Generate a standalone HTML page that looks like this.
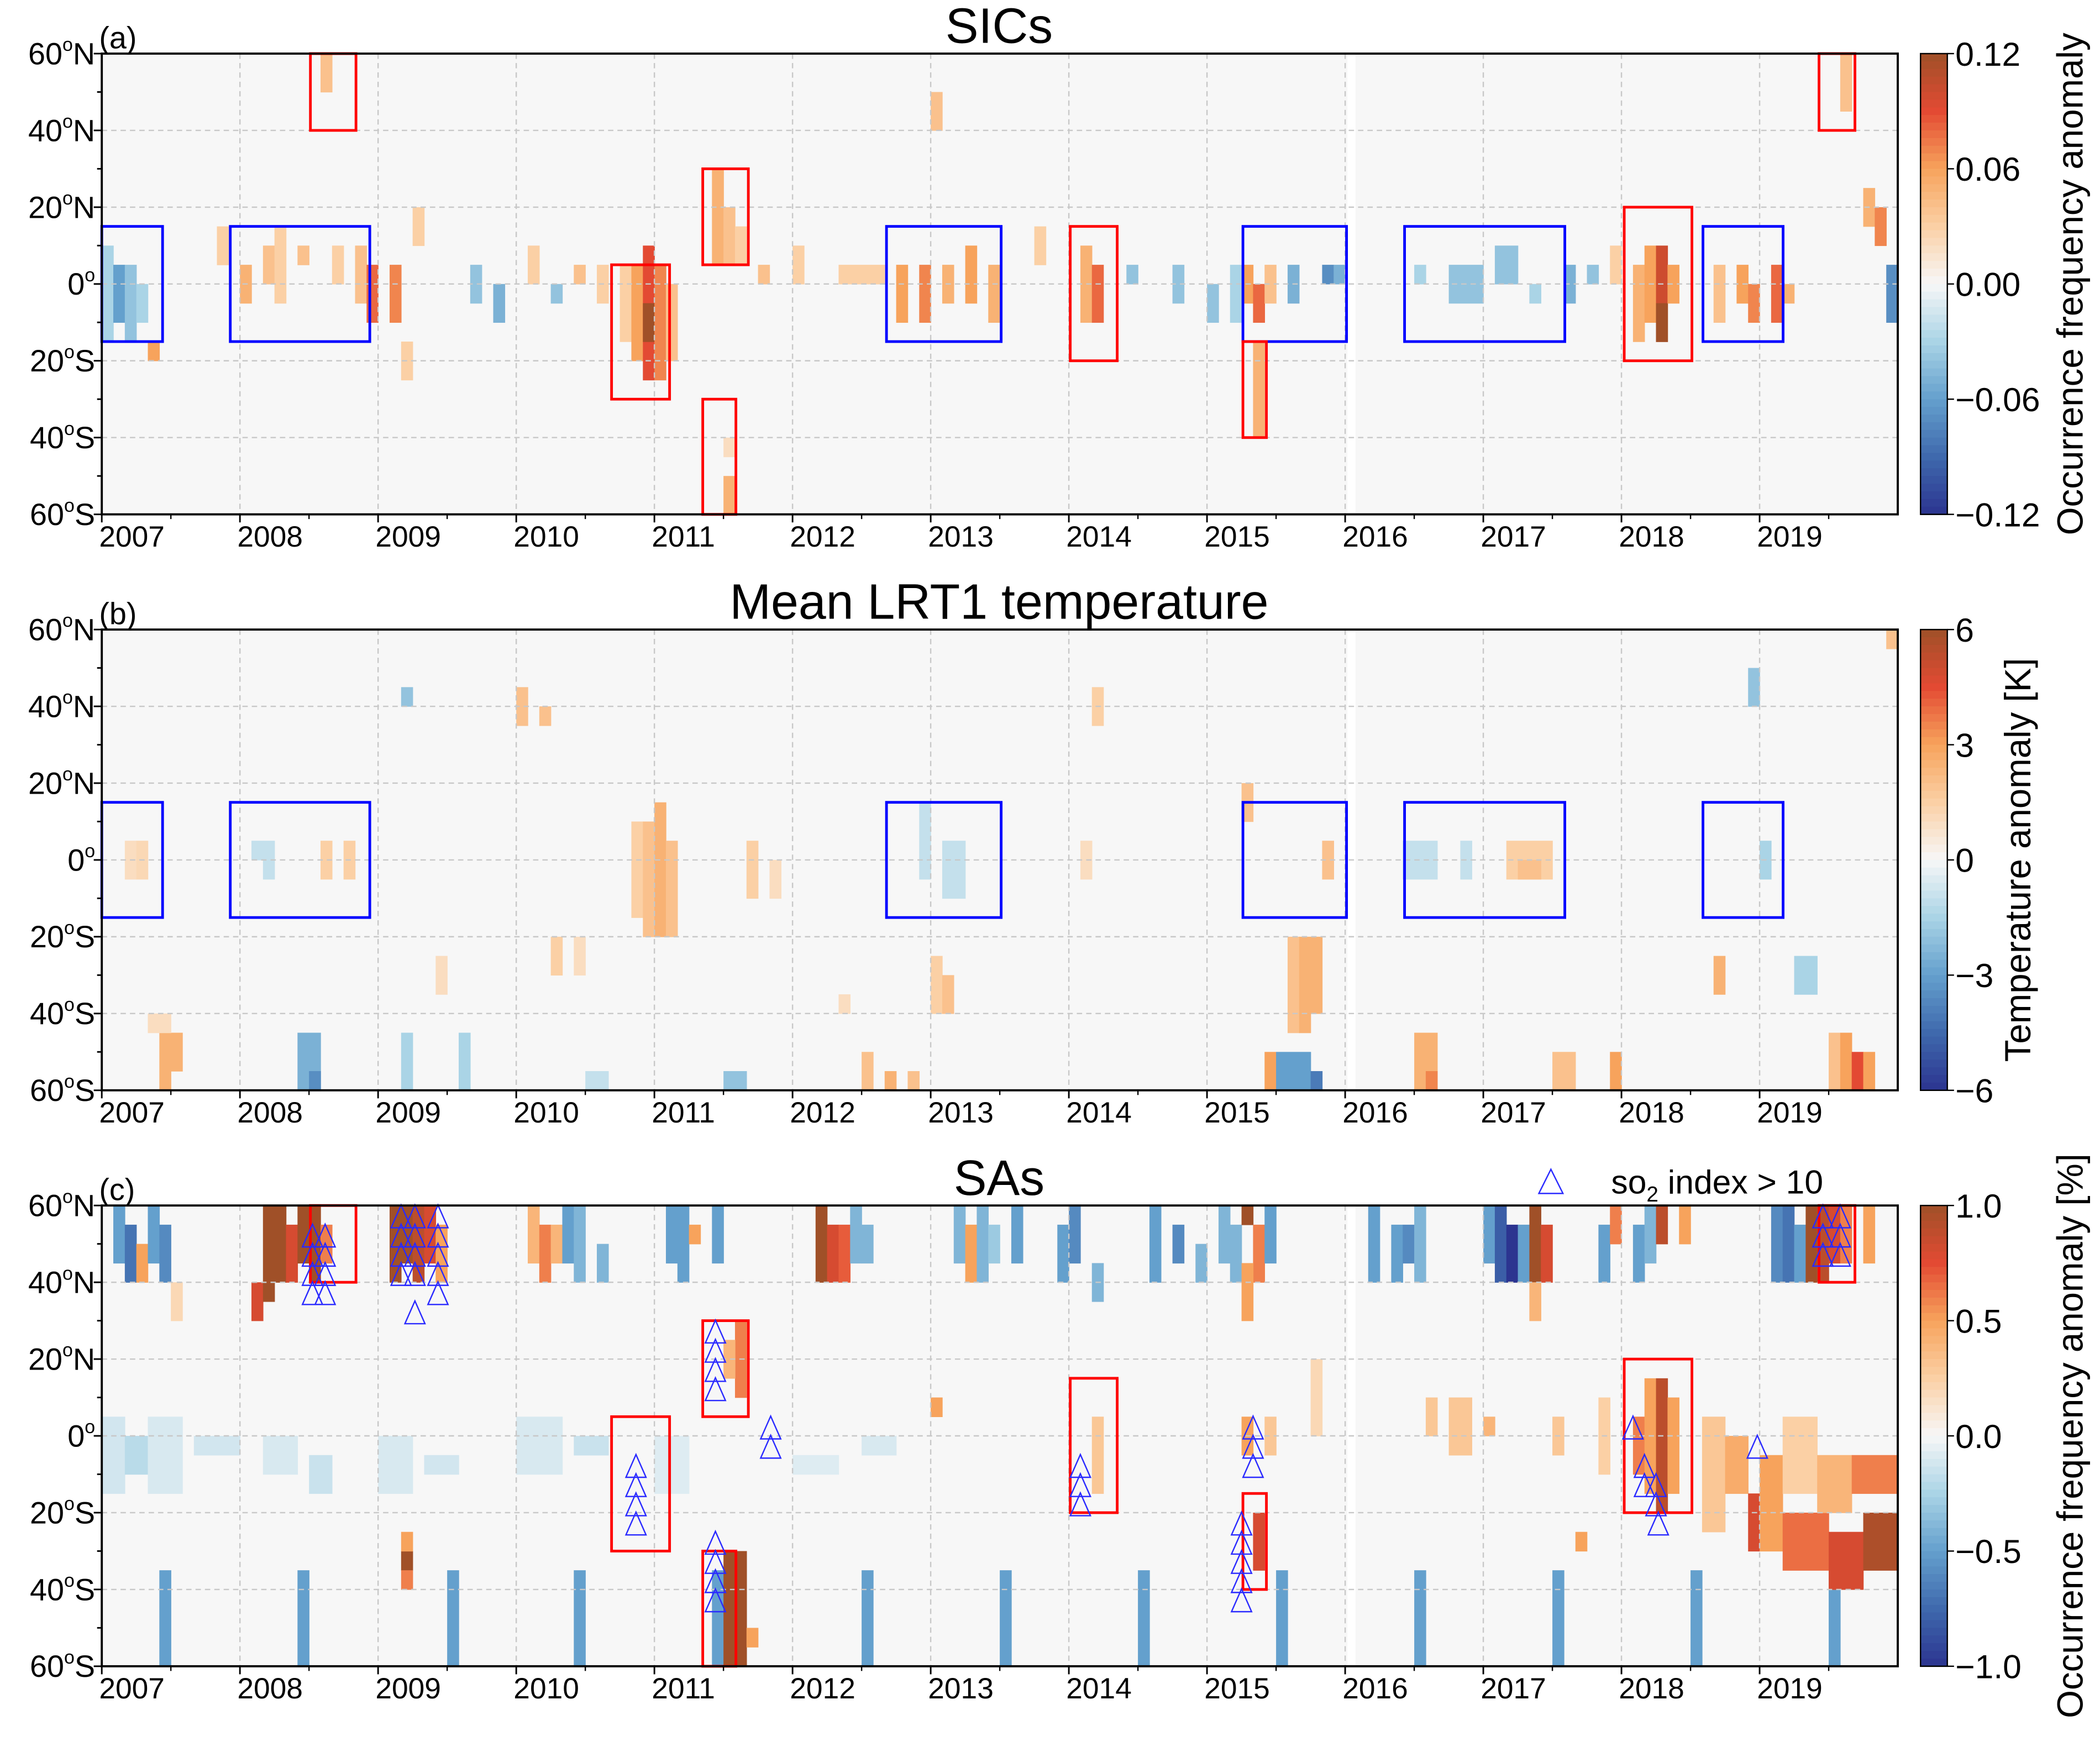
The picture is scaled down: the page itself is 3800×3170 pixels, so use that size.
<!DOCTYPE html>
<html><head><meta charset="utf-8">
<style>
html,body{margin:0;padding:0;background:#fff;}
svg{display:block;font-family:"Liberation Sans",sans-serif;}
</style></head>
<body>
<svg id="fig" width="3800" height="3170" viewBox="0 0 1568 1308" xmlns="http://www.w3.org/2000/svg">
<g id="layer"></g>
</svg>
<script>
// ---------- data ----------
const years = [2007,2008,2009,2010,2011,2012,2013,2014,2015,2016,2017,2018,2019];
const latTicks = [60,40,20,0,-20,-40,-60];
const panelTitles = ["SICs","Mean LRT1 temperature","SAs"];
const panelLetters = ["(a)","(b)","(c)"];
const cbTicksA = ["0.12","0.06","0.00","\u22120.06","\u22120.12"];
const cbTicksB = ["6","3","0","\u22123","\u22126"];
const cbTicksC = ["1.0","0.5","0.0","\u22120.5","\u22121.0"];
const cbLabels = ["Occurrence frequency anomaly","Temperature anomaly [K]","Occurrence frequency anomaly [%]"];
const vmax = [0.12, 6, 1.0];
// runs: [monthIndex from Jan 2007, months, latLow, latHigh, value]
const cellsA = [[0,1,-15,10,-0.03],[1,1,-10,5,-0.06],[2,1,-15,5,-0.04],[3,1,-10,0,-0.03],[4,1,-20,-15,0.06],
[10,1,5,15,0.03],[12,1,-5,5,0.05],[14,1,0,10,0.04],[15,1,-5,15,0.03],[17,1,5,10,0.04],[19,1,50,60,0.04],[20,1,0,10,0.03],[22,1,-5,10,0.04],[23,1,-10,5,0.08],[25,1,-10,5,0.07],[26,1,-25,-15,0.03],[27,1,10,20,0.03],
[32,1,-5,5,-0.04],[34,1,-10,0,-0.05],[37,1,0,10,0.03],[39,1,-5,0,-0.04],[41,1,0,5,0.04],[43,1,-5,5,0.03],
[45,1,-15,5,0.03],[46,1,-20,5,0.06],[47,1,-25,10,0.09],[47,1,-15,-5,0.12],[48,1,-25,5,0.07],[49,1,-20,0,0.04],
[53,1,5,30,0.05],[54,1,5,20,0.04],[55,1,5,15,0.03],[54,1,-60,-50,0.05],[54,1,-45,-40,0.02],
[57,1,0,5,0.04],[60,1,0,10,0.03],[64,4,0,5,0.03],[69,1,-10,5,0.06],[71,1,-10,5,0.07],[73,1,-5,5,0.05],[75,1,-5,10,0.06],[77,1,-10,5,0.05],[72,1,40,50,0.04],
[81,1,5,15,0.03],[85,1,-10,10,0.05],[86,1,-10,5,0.08],[89,1,0,5,-0.04],[93,1,-5,5,-0.04],[96,1,-10,0,-0.04],[98,1,-10,5,-0.03],
[99,1,-5,5,0.06],[100,1,-10,0,0.08],[100,1,-40,-15,0.05],[101,1,-5,5,0.04],[103,1,-5,5,-0.05],[106,1,0,5,-0.07],[107,1,0,5,-0.05],
[114,1,0,5,-0.03],[117,3,-5,5,-0.04],[121,2,0,10,-0.04],[124,1,-5,0,-0.03],[127,1,-5,5,-0.05],[129,1,0,5,-0.04],
[131,1,0,10,0.03],[133,1,-15,5,0.05],[134,1,-10,10,0.06],[135,1,-15,10,0.1],[135,1,-15,-5,0.12],[136,1,-5,5,0.06],
[140,1,-10,5,0.04],[142,1,-5,5,0.06],[143,1,-10,0,0.07],[145,1,-10,5,0.08],[146,1,-5,0,0.05],
[151,1,45,60,0.04],[153,1,15,25,0.05],[154,1,10,20,0.07],[155,1,-10,5,-0.07]];
const cellsB = [[2,1,-5,5,1],[3,1,-5,5,1.2],[5,1,-60,-45,2.5],[6,1,-55,-45,2.5],[4,2,-45,-40,1],
[13,1,0,5,-1],[14,1,-5,5,-1],[19,1,-5,5,1.5],[21,1,-5,5,1.5],[17,2,-60,-45,-2.5],[18,1,-60,-55,-3.5],
[26,1,40,45,-2],[26,1,-60,-45,-1.5],[29,1,-35,-25,1],
[31,1,-60,-45,-1.5],[36,1,35,45,2],[38,1,35,40,2],[39,1,-30,-20,1.5],[41,1,-30,-20,1],
[46,1,-15,10,1.5],[47,1,-20,10,2],[48,1,-20,15,2.5],[49,1,-20,5,2],[42,2,-60,-55,-1],
[54,2,-60,-55,-2],[56,1,-10,5,1.5],[58,1,-10,0,1],[64,1,-40,-35,1],[66,1,-60,-50,2],
[71,1,-5,15,-1],[73,2,-10,5,-1],[72,1,-40,-25,1.5],[73,1,-40,-30,2],[68,1,-60,-55,2.5],[70,1,-60,-55,2],
[86,1,35,45,1.5],[85,1,-5,5,1],
[99,1,10,20,2],[103,1,-45,-20,2],[104,1,-45,-20,2.5],[105,1,-40,-20,2.5],[106,1,-5,5,2],[101,1,-60,-50,3],[102,3,-60,-50,-3],[105,1,-60,-55,-4],
[114,2,-60,-45,2.5],[115,1,-60,-55,3.5],[113,3,-5,5,-1],[118,1,-5,5,-1],[122,4,-5,5,1.5],[123,2,-5,0,2],[126,2,-60,-50,2],[131,1,-60,-50,3],
[140,1,-35,-25,2.5],[143,1,40,50,-2],[144,1,-5,5,-1.5],[147,2,-35,-25,-1.5],[150,1,-60,-45,2],[151,1,-60,-45,3],[152,1,-60,-50,4.5],[153,1,-60,-50,3],[155,1,55,60,2]];
const cellsC = [[0,2,-15,5,-0.12],[2,2,-10,0,-0.2],[4,3,-15,5,-0.1],[8,4,-5,0,-0.12],[14,3,-10,0,-0.1],[18,2,-15,-5,-0.15],[24,3,-15,0,-0.1],[28,3,-10,-5,-0.12],[36,4,-10,5,-0.1],[41,3,-5,0,-0.15],[48,3,-15,0,-0.08],[60,4,-10,-5,-0.08],[66,3,-5,0,-0.1],
[1,1,45,60,-0.5],[2,1,40,55,-0.7],[3,1,40,50,0.5],[4,1,45,60,-0.5],[5,1,40,55,-0.6],[6,1,30,40,0.2],
[13,1,30,40,0.8],[14,1,35,60,1],[15,1,40,60,1],[16,1,40,55,0.8],[17,1,45,60,1],[18,1,40,60,1],[19,1,45,55,0.6],
[25,1,40,60,1],[26,1,45,60,1],[27,1,40,60,0.9],[28,1,45,60,0.8],[29,1,40,55,0.5],
[37,1,45,60,0.4],[38,1,40,55,0.6],[39,1,45,55,0.4],[40,1,45,60,-0.5],[41,1,40,60,-0.4],[43,1,40,50,-0.4],
[49,1,45,60,-0.5],[50,1,40,60,-0.5],[51,1,50,55,0.5],[53,1,45,60,-0.5],
[62,1,40,60,1],[63,1,40,55,0.8],[64,1,40,55,0.7],[65,1,45,60,-0.4],[66,1,45,55,-0.4],
[74,1,45,60,-0.4],[75,1,40,55,0.5],[76,1,40,60,-0.4],[77,1,45,55,-0.3],
[79,1,45,60,-0.5],[83,1,40,55,-0.5],[84,1,45,60,-0.6],[86,1,35,45,-0.4],
[91,1,40,60,-0.5],[93,1,45,55,-0.6],[95,1,40,50,-0.4],[97,1,45,60,-0.4],[98,1,40,55,-0.4],[99,1,55,60,1],[100,1,40,55,0.6],[101,1,45,60,-0.5],[99,1,30,45,0.5],
[110,1,40,60,-0.5],[112,1,40,55,-0.5],[113,1,45,55,-0.6],[114,1,40,60,-0.4],
[120,1,45,60,-0.5],[121,1,40,60,-0.8],[122,1,40,55,-1],[123,1,40,55,-0.5],[124,1,40,60,1],[125,1,40,55,0.8],[124,1,30,40,0.4],
[130,1,40,55,-0.5],[131,1,50,60,0.6],[133,1,40,55,-0.5],[134,1,45,60,-0.4],[135,1,50,60,0.9],[137,1,50,60,0.5],
[145,1,40,60,-0.6],[146,1,40,60,-0.7],[147,1,40,55,-0.5],[148,1,40,60,1],[149,1,40,60,0.9],[150,1,45,60,0.8],[151,1,45,60,0.6],[153,1,45,60,0.5],
[5,1,-60,-35,-0.5],[17,1,-60,-35,-0.5],[30,1,-60,-35,-0.5],[41,1,-60,-35,-0.5],[53,1,-60,-35,-0.5],[66,1,-60,-35,-0.5],[78,1,-60,-35,-0.5],[90,1,-60,-35,-0.5],[102,1,-60,-35,-0.5],[114,1,-60,-35,-0.5],[126,1,-60,-35,-0.5],[138,1,-60,-35,-0.5],[150,1,-60,-35,-0.5],
[26,1,-35,-30,1],[26,1,-40,-35,0.6],[26,1,-30,-25,0.5],
[54,2,-60,-30,1],[56,1,-55,-50,0.5],[55,1,10,30,0.6],[54,1,15,25,0.4],
[72,1,5,10,0.5],[86,1,-15,5,0.3],
[100,1,-35,-20,0.8],[99,1,-5,5,0.5],[101,1,-5,5,0.3],[105,1,0,20,0.2],
[115,1,0,10,0.3],[117,2,-5,10,0.3],[120,1,0,5,0.4],[126,1,-5,5,0.3],[128,1,-30,-25,0.5],[130,1,-10,10,0.25],
[133,1,-10,5,0.6],[134,1,-15,15,0.5],[135,1,-20,15,0.9],[136,1,-15,10,0.5],
[139,2,-25,5,0.3],[141,2,-15,0,0.45],[143,1,-30,-15,0.8],[144,2,-30,-5,0.5],[146,4,-35,-20,0.65],[150,3,-40,-25,0.8],[153,3,-35,-20,0.95],[146,3,-15,5,0.25],[149,3,-20,-5,0.4],[152,4,-15,-5,0.6]];
// boxes: [startYear, endYear, latLow, latHigh]
const blueBoxes = [[2007.0,2007.44,-15,15],[2007.93,2008.94,-15,15],[2012.68,2013.51,-15,15],[2015.26,2016.01,-15,15],[2016.43,2017.59,-15,15],[2018.59,2019.17,-15,15]];
const redBoxes = [[2008.51,2008.84,40,60],[2010.69,2011.11,-30,5],[2011.35,2011.68,5,30],[2011.35,2011.59,-60,-30],[2014.01,2014.35,-20,15],[2015.26,2015.43,-40,-15],[2018.02,2018.51,-20,20],[2019.43,2019.69,40,60]];
// so2 triangles: month index, latitude
const triMonth = [18.3,18.3,18.3,18.3,19.4,19.4,19.4,19.4,26,26,26,26,27.2,27.2,27.2,27.2,27.2,29.2,29.2,29.2,29.2,29.2,46.4,46.4,46.4,46.4,53.3,53.3,53.3,53.3,53.3,53.3,53.3,53.3,58.1,58.1,85,85,85,99,99,99,99,99,100,100,100,133,134,134,135,135,135.2,143.8,149.5,149.5,149.5,151,151,151];
const triLat = [52,47,42,37,52,47,42,37,57,52,47,42,57,52,47,42,32,57,52,47,42,37,-8,-13,-18,-23,27,22,17,12,-28,-33,-38,-43,2,-3,-8,-13,-18,-23,-28,-33,-38,-43,2,-3,-8,2,-8,-13,-13,-18,-23,-3,57,52,47,57,52,47];

// ---------- layout ----------
const NS="http://www.w3.org/2000/svg";
const layer=document.getElementById('layer');
const X0=76, X1=1417;
const panelTop=[40,470,900], PH=344;
const CBX=1434, CBW=20;
function xYear(y){return X0+(y-2007)/13*(X1-X0);}
function xMonth(m){return xYear(2007+m/12);}
function yLat(p,lat){return panelTop[p]+(60-lat)/120*PH;}
const stops=[[-1,[44,52,144]],[-0.75,[63,105,173]],[-0.5,[100,160,205]],[-0.25,[170,212,230]],[0,[247,247,247]],[0.25,[251,208,165]],[0.5,[247,163,92]],[0.75,[227,74,51]],[1,[160,80,40]]];
function color(v){v=Math.max(-1,Math.min(1,v));for(let i=0;i<stops.length-1;i++){const a=stops[i],b=stops[i+1];if(v<=b[0]){const t=(v-a[0])/(b[0]-a[0]);const c=a[1].map((q,k)=>Math.round(q+(b[1][k]-q)*t));return `rgb(${c[0]},${c[1]},${c[2]})`;}}return 'rgb(160,80,40)';}
function el(tag,attrs,parent){const e=document.createElementNS(NS,tag);for(const k in attrs)e.setAttribute(k,attrs[k]);(parent||layer).appendChild(e);return e;}

const cellSets=[cellsA,cellsB,cellsC];
const cbTickSets=[cbTicksA,cbTicksB,cbTicksC];
for(let p=0;p<3;p++){
  const top=panelTop[p];
  const g=el('g',{});
  
  
  const bg=el('rect',{x:X0,y:top,width:X1-X0,height:PH,fill:'#f7f7f7'},g);
  
  
  for(const c of cellSets[p]){
    const r=el('rect',{x:xMonth(c[0]),y:yLat(p,c[3]),width:xMonth(c[0]+c[1])-xMonth(c[0])+0.3,height:yLat(p,c[2])-yLat(p,c[3])+0.3,fill:color(c[4]/vmax[p])},g);
    
    
  }
  const gap=el('rect',{x:xMonth(108.2),y:top,width:xMonth(108.9)-xMonth(108.2),height:PH,fill:'#ffffff'},g);
  
  
  for(const yr of years){const l=el('line',{x1:xYear(yr),x2:xYear(yr),y1:top,y2:top+PH,stroke:'#c8c8c8','stroke-width':1,'stroke-dasharray':'4,3'},g);
    
    }
  for(const lt of latTicks){const l=el('line',{x1:X0,x2:X1,y1:yLat(p,lt),y2:yLat(p,lt),stroke:'#c8c8c8','stroke-width':1,'stroke-dasharray':'4,3'},g);
    
    }
  if(p<2){for(const b of blueBoxes){const r=el('rect',{x:xYear(b[0]),y:yLat(p,b[3]),width:xYear(b[1])-xYear(b[0]),height:yLat(p,b[2])-yLat(p,b[3]),fill:'none',stroke:'#0000ff','stroke-width':2},g);
    
    }}
  if(p!==1){for(const b of redBoxes){const r=el('rect',{x:xYear(b[0]),y:yLat(p,b[3]),width:xYear(b[1])-xYear(b[0]),height:yLat(p,b[2])-yLat(p,b[3]),fill:'none',stroke:'#ff0000','stroke-width':2},g);
    
    }}
  if(p===2){for(let i=0;i<triMonth.length;i++){const cx=xMonth(triMonth[i]),cy=yLat(p,triLat[i]);
    const t=el('polygon',{points:`${cx},${cy-9} ${cx-7.5},${cy+8} ${cx+7.5},${cy+8}`,fill:'none',stroke:'#2a2aff','stroke-width':1},g);
    
    }}
  const fr=el('rect',{x:X0,y:top,width:X1-X0,height:PH,fill:'none',stroke:'#000','stroke-width':1.6},g);
  
  
  for(const yr of years){
    el('line',{x1:xYear(yr),x2:xYear(yr),y1:top+PH,y2:top+PH+6,stroke:'#000','stroke-width':1.2},g);
    el('line',{x1:xYear(yr+0.5),x2:xYear(yr+0.5),y1:top+PH,y2:top+PH+3.5,stroke:'#000','stroke-width':1},g);
    const t=el('text',{x:xYear(yr)-2,y:top+PH+24,'font-size':22,fill:'#000'},g);t.textContent=yr;
    
    
  }
  for(let lt=-60;lt<=60;lt+=10){el('line',{x1:X0-(lt%20===0?6:3.5),x2:X0,y1:yLat(p,lt),y2:yLat(p,lt),stroke:'#000','stroke-width':1.2},g);}
  for(const lt of latTicks){
    const t=el('text',{x:X0-5,y:yLat(p,lt)+8,'font-size':23,'text-anchor':'end',fill:'#000'},g);
    const suf=lt>0?'N':(lt<0?'S':'');
    t.innerHTML=`${Math.abs(lt)}<tspan font-size="14" dy="-10">o</tspan><tspan dy="10">${suf}</tspan>`;
    
    
  }
  const tt=el('text',{x:746,y:top-8,'font-size':37,'text-anchor':'middle',fill:'#000'},g);tt.textContent=panelTitles[p];
  
  
  const lt=el('text',{x:74,y:top-4,'font-size':23,fill:'#000'},g);lt.textContent=panelLetters[p];
  
  
  const N=60;
  for(let i=0;i<N;i++){const v=1-2*(i+0.5)/N;const r=el('rect',{x:CBX,y:top+i*PH/N,width:CBW,height:PH/N+0.5,fill:color(v)},g);
    
    }
  el('rect',{x:CBX,y:top,width:CBW,height:PH,fill:'none',stroke:'#000','stroke-width':1},g);
  cbTickSets[p].forEach((s,i)=>{const yy=top+i*PH/4;el('line',{x1:CBX+CBW,x2:CBX+CBW+5,y1:yy,y2:yy,stroke:'#000'},g);
    const t=el('text',{x:CBX+CBW+6,y:yy+9,'font-size':25,fill:'#000'},g);t.textContent=s;
    
    });
  const lx=p===1?1516:1555;
  const cl=el('text',{x:lx,y:top+PH/2,'font-size':27,'text-anchor':'middle',transform:`rotate(-90 ${lx} ${top+PH/2})`,fill:'#000'},g);
  cl.textContent=cbLabels[p];
  
  
}
const lg=el('g',{});


el('polygon',{points:'1158,873 1149,891 1167,891',fill:'none',stroke:'#2a2aff','stroke-width':1},lg);
const ltx=el('text',{x:1203,y:891,'font-size':25,fill:'#000'},lg);
ltx.innerHTML='so<tspan font-size="16" dy="6">2</tspan><tspan dy="-6"> index &gt; 10</tspan>';


</script>
</body></html>
